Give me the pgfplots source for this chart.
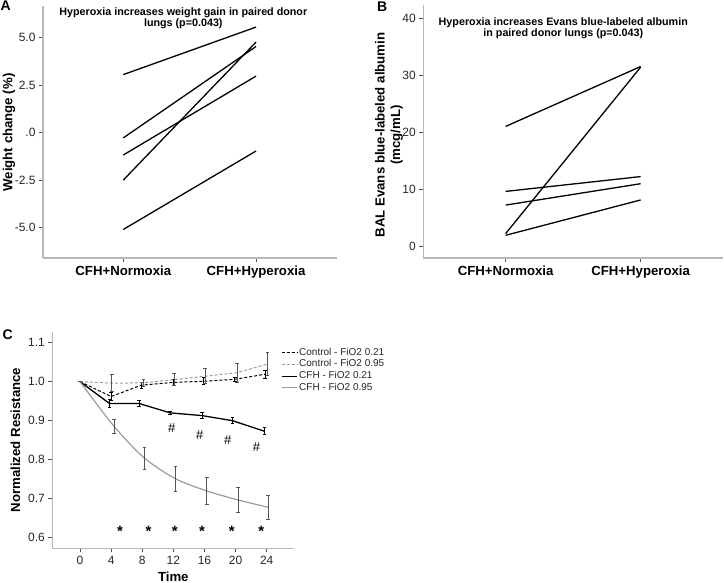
\documentclass[border=0pt]{standalone}
\usepackage{fontspec}
\setmainfont{Liberation Sans}
\usepackage{pgfplots}
\pgfplotsset{compat=1.18}
\definecolor{axgray}{HTML}{B8B8B8}
\definecolor{tickgray}{HTML}{505050}
\definecolor{lgray}{HTML}{9C9C9C}
\definecolor{egray}{HTML}{555555}
\definecolor{txtgray}{HTML}{262626}
\newcommand\fs[2]{\fontsize{#1}{#2}\selectfont}
\pgfplotsset{
 panel/.style={
  scale only axis,
  anchor=south west,
  axis x line*=bottom, axis y line*=left,
  axis line style={draw=axgray, line width=1.2pt, -},
  tick align=outside,
  major tick length=4pt,
  tick style={draw=tickgray, line width=0.8pt},
  minor tick num=0,
  tick label style={font=\fs{12}{14}, text=txtgray},
  /pgf/number format/assume math mode=true,
  clip=false,
 },
 pline/.style={black, line width=1.3pt},
 ebar/.style={error bars/.cd, y dir=both, y explicit,
   error bar style={#1, solid, line width=0.8pt},
   error mark options={#1, solid, rotate=90, mark size=1.8pt, line width=0.8pt}},
}
\pgfplotstableread{
x y e
0 1.0 0
4.0 0.962 0.011
7.9 0.991 0.008
12.0 0.998 0.008
15.9 1.001 0.009
19.9 1.006 0.006
23.8 1.019 0.010
}\ctrlA
\pgfplotstableread{
x y e
0 1.0 0
4.1 0.996 0.022
8.15 0.997 0.010
12.1 1.005 0.015
16.1 1.014 0.019
20.2 1.023 0.024
24.1 1.045 0.030
}\ctrlB
\pgfplotstableread{
x y e
0 1.0 0
3.8 0.944 0.010
7.6 0.944 0.007
11.6 0.920 0.005
15.7 0.913 0.008
19.6 0.900 0.008
23.7 0.873 0.009
}\cfhA
\pgfplotstableread{
x y e
0 1.0 0
4.4 0.885 0.017
8.3 0.804 0.028
12.3 0.751 0.032
16.3 0.720 0.035
20.3 0.697 0.032
24.2 0.678 0.031
}\cfhB
\begin{document}
\begin{tikzpicture}
\path[use as bounding box] (0pt,0pt) rectangle (724pt,583pt);
% ---------------- Panel A
\begin{axis}[panel, at={(43pt,325pt)}, width=294pt, height=252pt,
  xmin=0.395, xmax=2.61, ymin=-6.6, ymax=6.66,
  xtick={1,2}, xticklabels={CFH+Normoxia,CFH+Hyperoxia},
  xticklabel style={font=\bfseries\fs{13.2}{15}, text=black},
  ytick={-5,-2.5,0,2.5,5}, yticklabels={-5.0,-2.5,.0,2.5,5.0}]
\addplot[pline] coordinates {(1,3.05) (2,5.55)};
\addplot[pline] coordinates {(1,-0.28) (2,4.53)};
\addplot[pline] coordinates {(1,-1.18) (2,2.97)};
\addplot[pline] coordinates {(1,-2.5) (2,4.76)};
\addplot[pline] coordinates {(1,-5.1) (2,-0.97)};
\end{axis}
% ---------------- Panel B
\begin{axis}[panel, at={(423.3pt,325pt)}, width=299.7pt, height=253pt,
  xmin=0.39, xmax=2.61, ymin=-1.98, ymax=42.4,
  xtick={1,2}, xticklabels={CFH+Normoxia,CFH+Hyperoxia},
  xticklabel style={font=\bfseries\fs{13.2}{15}, text=black},
  ytick={0,10,20,30,40}]
\addplot[pline] coordinates {(1,21.1) (2,31.6)};
\addplot[pline] coordinates {(1,2.3) (2,31.5)};
\addplot[pline] coordinates {(1,9.7) (2,12.3)};
\addplot[pline] coordinates {(1,7.3) (2,11.05)};
\addplot[pline] coordinates {(1,2.0) (2,8.2)};
\end{axis}
% ---------------- Panel C
\begin{axis}[panel, at={(52.3pt,34.7pt)}, width=242pt, height=216.6pt,
  xmin=-3.56, xmax=27.55, ymin=0.573, ymax=1.128,
  xtick={0,4,8,12,16,20,24},
  ytick={0.6,0.7,0.8,0.9,1.0,1.1}, yticklabels={0.6,0.7,0.8,0.9,1.0,1.1},
  legend image code/.code={\draw[#1] (0pt,0pt) -- (15.7pt,0pt);},
  legend style={at={(axis description cs:0.945,0.9257)}, anchor=north west,
    draw=none, fill=none, font=\fs{10}{12}, text=txtgray, inner sep=0pt, outer sep=0pt,
    row sep=1.7pt, column sep=1.2pt,
    nodes={inner sep=0pt, text height=7.5pt, text depth=2.5pt}},
  legend cell align=left]
\addplot[black, line width=1pt, dash pattern=on 3pt off 2pt, ebar=black]
  table[x=x, y=y, y error=e] {\ctrlA};
\addlegendentry{Control - FiO2 0.21}
\addplot[lgray, line width=1pt, dash pattern=on 3pt off 2pt, ebar=egray]
  table[x=x, y=y, y error=e] {\ctrlB};
\addlegendentry{Control - FiO2 0.95}
\addplot[black, line width=1.3pt, ebar=black]
  table[x=x, y=y, y error=e] {\cfhA};
\addlegendentry{CFH - FiO2 0.21}
\addplot[lgray, line width=1.2pt, smooth, tension=0.5, ebar=egray]
  table[x=x, y=y, y error=e] {\cfhB};
\addlegendentry{CFH - FiO2 0.95}
\node[anchor=base, inner sep=0pt, font=\fs{13}{13}] at (axis cs:11.8,0.869) {\#};
\node[anchor=base, inner sep=0pt, font=\fs{13}{13}] at (axis cs:15.4,0.851) {\#};
\node[anchor=base, inner sep=0pt, font=\fs{13}{13}] at (axis cs:19.0,0.838) {\#};
\node[anchor=base, inner sep=0pt, font=\fs{13}{13}] at (axis cs:22.7,0.821) {\#};
\node[anchor=base, inner sep=0pt, font=\bfseries\fs{15}{15}] at (axis cs:5.15,0.603) {*};
\node[anchor=base, inner sep=0pt, font=\bfseries\fs{15}{15}] at (axis cs:8.8,0.603) {*};
\node[anchor=base, inner sep=0pt, font=\bfseries\fs{15}{15}] at (axis cs:12.2,0.603) {*};
\node[anchor=base, inner sep=0pt, font=\bfseries\fs{15}{15}] at (axis cs:15.7,0.603) {*};
\node[anchor=base, inner sep=0pt, font=\bfseries\fs{15}{15}] at (axis cs:19.5,0.603) {*};
\node[anchor=base, inner sep=0pt, font=\bfseries\fs{15}{15}] at (axis cs:23.3,0.603) {*};
\end{axis}
% ---------------- Texts
\node[anchor=base west, inner sep=0pt, font=\bfseries\fs{14}{14}] at (0.5pt,572pt) {A};
\node[anchor=base west, inner sep=0pt, font=\bfseries\fs{14}{14}] at (377pt,571pt) {B};
\node[anchor=base west, inner sep=0pt, font=\bfseries\fs{14}{14}] at (2.5pt,243.5pt) {C};
\node[align=center, inner sep=0pt, font=\bfseries\fs{10.75}{10}] at (183.3pt,564.7pt)
  {Hyperoxia increases weight gain in paired donor\\lungs (p=0.043)};
\node[align=center, inner sep=0pt, font=\bfseries\fs{10.75}{10}] at (563.3pt,554.7pt)
  {Hyperoxia increases Evans blue-labeled albumin\\in paired donor lungs (p=0.043)};
\node[rotate=90, inner sep=0pt, font=\bfseries\fs{13.2}{15}] at (9pt,450.5pt) {Weight change (\%)};
\node[rotate=90, align=center, inner sep=0pt, font=\bfseries\fs{13.2}{15.5}] at (389pt,448pt)
  {BAL Evans blue-labeled albumin\\(mcg/mL)};
\node[rotate=90, inner sep=0pt, font=\bfseries\fs{13.2}{15}] at (15.5pt,143pt) {Normalized Resistance};
\node[inner sep=0pt, font=\bfseries\fs{13.2}{15}] at (173.3pt,6.5pt) {Time};
\end{tikzpicture}
\end{document}
